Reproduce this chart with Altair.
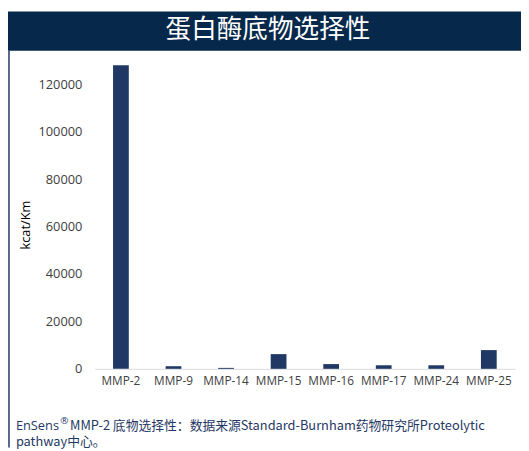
import altair as alt
import pandas as pd

categories = ["MMP-2", "MMP-9", "MMP-14", "MMP-15", "MMP-16", "MMP-17", "MMP-24", "MMP-25"]
values = [128000, 1100, 400, 6200, 2000, 1500, 1500, 7900]
y_ticks = [0, 20000, 40000, 60000, 80000, 100000, 120000]
title_text = "蛋白酶底物选择性"
note_line1 = "EnSens"
note_reg = "®"
note_line1b = "MMP-2 底物选择性：数据来源Standard-Burnham药物研究所Proteolytic"
note_line2 = "pathway中心。"

df = pd.DataFrame({"cat": categories, "val": values})

W, H = 427, 313
FONT = "Open Sans"
CJK = "Noto Sans CJK SC"
NAVY = "#1f3864"

base = alt.Chart(df)

bars = base.mark_bar(color=NAVY, size=16).encode(
    x=alt.X("cat:N", sort=categories, title=None,
            scale=alt.Scale(paddingInner=0.0, paddingOuter=0.0),
            axis=alt.Axis(labelAngle=0, labelFont=FONT, labelFontSize=12,
                          labelColor="#404040", domainColor="#d9d9d9",
                          ticks=False, labelPadding=7)),
    y=alt.Y("val:Q", title="kcat/Km",
            scale=alt.Scale(domain=[0, 130000], nice=False),
            axis=alt.Axis(values=y_ticks, grid=False, domain=False, ticks=False,
                          format="d",
                          labelFont=FONT, labelFontSize=13, labelColor="#404040",
                          labelPadding=13, titleFont=FONT, titleFontSize=13,
                          titleColor="#000000", titleFontWeight="normal",
                          titleX=-70, titleY=H / 2 + 10, titleAngle=-90,
                          titleAlign="center", titleBaseline="middle")),
)

one = pd.DataFrame({"a": [0]})
banner = alt.Chart(one).mark_rect(color="#06284a").encode(
    x=alt.value(-88), x2=alt.value(W + 6), y=alt.value(-50), y2=alt.value(-10)
)
border = alt.Chart(one).mark_rule(color="#1f3864", strokeWidth=1.5).encode(
    x=alt.value(-87), y=alt.value(-10), y2=alt.value(H + 80)
)
title = alt.Chart(pd.DataFrame({"t": [title_text]})).mark_text(
    font=CJK, fontSize=26, color="white", align="center", baseline="middle"
).encode(x=alt.value(176), y=alt.value(-31), text="t:N")

note1 = alt.Chart(pd.DataFrame({"t": [note_line1]})).mark_text(
    font=FONT, fontSize=13, color=NAVY, align="left", baseline="alphabetic"
).encode(x=alt.value(-80), y=alt.value(375), text="t:N")
note1r = alt.Chart(pd.DataFrame({"t": [note_reg]})).mark_text(
    font=FONT, fontSize=10, color=NAVY, align="left", baseline="alphabetic"
).encode(x=alt.value(-35), y=alt.value(369), text="t:N")
note1b = alt.Chart(pd.DataFrame({"t": [note_line1b]})).mark_text(
    font=CJK, fontSize=13, color=NAVY, align="left", baseline="alphabetic"
).encode(x=alt.value(-25), y=alt.value(375), text="t:N")
note2 = alt.Chart(pd.DataFrame({"t": [note_line2]})).mark_text(
    font=CJK, fontSize=13, color=NAVY, align="left", baseline="alphabetic"
).encode(x=alt.value(-80), y=alt.value(391), text="t:N")

chart = alt.layer(banner, border, title, bars, note1, note1r, note1b, note2).properties(
    width=W, height=H, autosize="none", background="white",
    padding={"left": 88, "top": 50, "right": 6, "bottom": 80},
).configure_view(stroke="transparent", strokeWidth=0)

chart.save("out.html", embed_options={"renderer": "svg", "actions": False})
